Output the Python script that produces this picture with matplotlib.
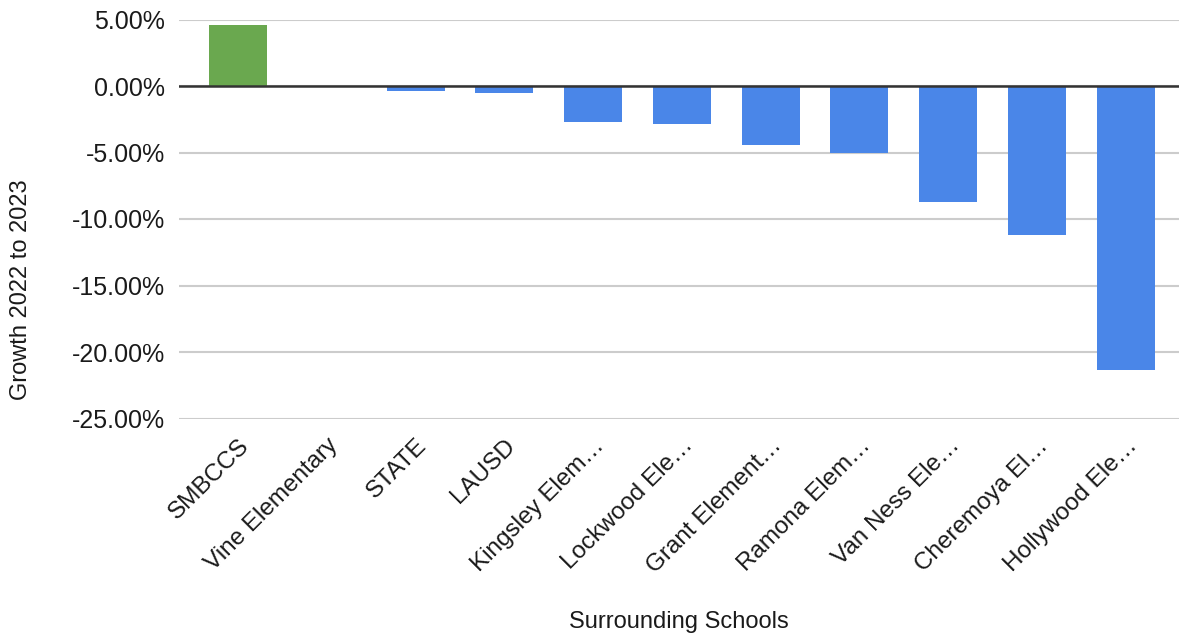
import matplotlib
matplotlib.use("Agg")
import matplotlib.pyplot as plt
import matplotlib.transforms as mtransforms
from matplotlib.ticker import FuncFormatter

categories = ["SMBCCS", "Vine Elementary", "STATE", "LAUSD", "Kingsley Elem\u2026",
              "Lockwood Ele\u2026", "Grant Element\u2026", "Ramona Elem\u2026",
              "Van Ness Ele\u2026", "Cheremoya El\u2026", "Hollywood Ele\u2026"]
growth = [4.59, 0.0, -0.38, -0.53, -2.73, -2.86, -4.44, -5.01, -8.70, -11.18, -21.35]
bar_colors = ["#6aa84f"] + ["#4a86e8"] * 10
y_ticks = [5, 0, -5, -10, -15, -20, -25]

plt.rcParams['font.family'] = ['Liberation Sans', 'DejaVu Sans']

fig = plt.figure(figsize=(11.79, 6.35), dpi=100)
W, H = 1179, 635
ax = fig.add_axes([179 / W, 1 - 418.5 / H, (1179 - 179) / W, (418.5 - 19.5) / H])

x = list(range(len(categories)))
ax.bar(x, growth, width=0.653, color=bar_colors, zorder=3)

ax.set_ylim(-25, 5)
ax.set_xlim(-0.665, 10.6)
ax.set_yticks(y_ticks)
ax.yaxis.set_major_formatter(FuncFormatter(lambda v, p: f"{v:.2f}%"))
ax.grid(axis='y', color='#cccccc', linewidth=1.5, zorder=0)
ax.axhline(0, color='#333333', linewidth=1.8, zorder=4)
for s in ax.spines.values():
    s.set_visible(False)
ax.tick_params(axis='y', length=0, pad=10, labelsize=18, labelcolor='#1a1a1a')
ax.tick_params(axis='x', length=0, labelsize=17.5, labelcolor='#1a1a1a')

ax.set_xticks(x)
ax.set_xticklabels(categories, rotation=45, ha='right', va='center', rotation_mode='anchor')
offset = mtransforms.ScaledTranslation(8 / 100, -19 / 100, fig.dpi_scale_trans)
for lab in ax.get_xticklabels():
    lab.set_transform(lab.get_transform() + offset)

fig.text(679 / W, 1 - 622 / H, "Surrounding Schools", ha='center', va='center',
         fontsize=17, color='#1a1a1a')
fig.text(21 / W, 1 - 290 / H, "Growth 2022 to 2023", ha='center', va='center',
         rotation=90, fontsize=17, color='#1a1a1a')

fig.savefig("out.png", dpi=100, facecolor='white')
